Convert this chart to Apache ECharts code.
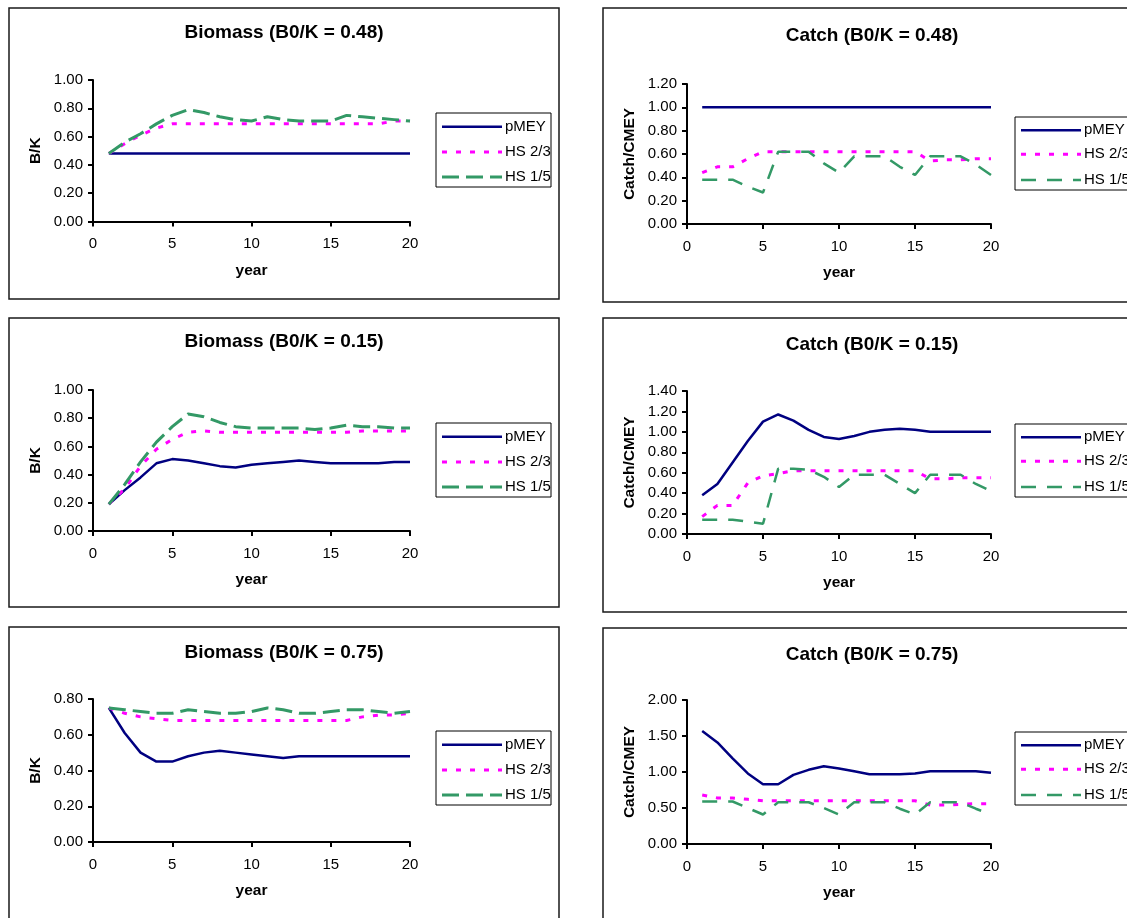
<!DOCTYPE html>
<html>
<head>
<meta charset="utf-8">
<script src="https://cdn.jsdelivr.net/npm/echarts@6/dist/echarts.min.js"></script>
<style>
  html, body { margin: 0; padding: 0; background: #ffffff; }
  #chart { width: 1127px; height: 918px; }
</style>
</head>
<body>
<div id="chart"></div>
<script>
// ---- data ----
const years = [1, 2, 3, 4, 5, 6, 7, 8, 9, 10, 11, 12, 13, 14, 15, 16, 17, 18, 19, 20];
const seriesNames = ['pMEY', 'HS 2/3', 'HS 1/5'];
const xTicks = [0, 5, 10, 15, 20];

// B0/K = 0.48
const biomass048_pMEY = [0.48, 0.48, 0.48, 0.48, 0.48, 0.48, 0.48, 0.48, 0.48, 0.48, 0.48, 0.48, 0.48, 0.48, 0.48, 0.48, 0.48, 0.48, 0.48, 0.48];
const biomass048_hs23 = [0.48, 0.55, 0.61, 0.66, 0.69, 0.69, 0.69, 0.69, 0.69, 0.69, 0.69, 0.69, 0.69, 0.69, 0.69, 0.69, 0.69, 0.69, 0.71, 0.71];
const biomass048_hs15 = [0.48, 0.56, 0.62, 0.69, 0.75, 0.79, 0.77, 0.74, 0.72, 0.71, 0.74, 0.72, 0.71, 0.71, 0.71, 0.75, 0.74, 0.73, 0.72, 0.71];
const catch048_pMEY = [1.00, 1.00, 1.00, 1.00, 1.00, 1.00, 1.00, 1.00, 1.00, 1.00, 1.00, 1.00, 1.00, 1.00, 1.00, 1.00, 1.00, 1.00, 1.00, 1.00];
const catch048_hs23 = [0.44, 0.49, 0.49, 0.56, 0.62, 0.62, 0.62, 0.62, 0.62, 0.62, 0.62, 0.62, 0.62, 0.62, 0.62, 0.54, 0.55, 0.55, 0.56, 0.56];
const catch048_hs15 = [0.38, 0.38, 0.38, 0.32, 0.27, 0.62, 0.62, 0.62, 0.52, 0.44, 0.58, 0.58, 0.58, 0.49, 0.42, 0.58, 0.58, 0.58, 0.51, 0.42];

// B0/K = 0.15
const biomass015_pMEY = [0.19, 0.29, 0.38, 0.48, 0.51, 0.50, 0.48, 0.46, 0.45, 0.47, 0.48, 0.49, 0.50, 0.49, 0.48, 0.48, 0.48, 0.48, 0.49, 0.49];
const biomass015_hs23 = [0.19, 0.30, 0.46, 0.58, 0.65, 0.70, 0.71, 0.70, 0.70, 0.70, 0.70, 0.70, 0.70, 0.70, 0.70, 0.70, 0.71, 0.71, 0.71, 0.71];
const biomass015_hs15 = [0.19, 0.33, 0.49, 0.63, 0.74, 0.83, 0.81, 0.77, 0.74, 0.73, 0.73, 0.73, 0.73, 0.72, 0.73, 0.75, 0.74, 0.74, 0.73, 0.73];
const catch015_pMEY = [0.38, 0.49, 0.70, 0.91, 1.10, 1.17, 1.11, 1.02, 0.95, 0.93, 0.96, 1.00, 1.02, 1.03, 1.02, 1.00, 1.00, 1.00, 1.00, 1.00];
const catch015_hs23 = [0.17, 0.28, 0.28, 0.50, 0.57, 0.59, 0.62, 0.62, 0.62, 0.62, 0.62, 0.62, 0.62, 0.62, 0.62, 0.54, 0.54, 0.55, 0.55, 0.55];
const catch015_hs15 = [0.14, 0.14, 0.14, 0.12, 0.10, 0.64, 0.64, 0.63, 0.56, 0.46, 0.58, 0.58, 0.58, 0.49, 0.40, 0.58, 0.58, 0.58, 0.49, 0.42];

// B0/K = 0.75
const biomass075_pMEY = [0.75, 0.61, 0.50, 0.45, 0.45, 0.48, 0.50, 0.51, 0.50, 0.49, 0.48, 0.47, 0.48, 0.48, 0.48, 0.48, 0.48, 0.48, 0.48, 0.48];
const biomass075_hs23 = [0.75, 0.72, 0.70, 0.69, 0.68, 0.68, 0.68, 0.68, 0.68, 0.68, 0.68, 0.68, 0.68, 0.68, 0.68, 0.68, 0.70, 0.71, 0.71, 0.72];
const biomass075_hs15 = [0.75, 0.74, 0.73, 0.72, 0.72, 0.74, 0.73, 0.72, 0.72, 0.73, 0.75, 0.74, 0.72, 0.72, 0.73, 0.74, 0.74, 0.73, 0.72, 0.73];
const catch075_pMEY = [1.57, 1.41, 1.19, 0.98, 0.83, 0.83, 0.96, 1.03, 1.08, 1.05, 1.01, 0.97, 0.97, 0.97, 0.98, 1.01, 1.01, 1.01, 1.01, 0.99];
const catch075_hs23 = [0.68, 0.64, 0.64, 0.62, 0.60, 0.60, 0.60, 0.60, 0.60, 0.60, 0.60, 0.60, 0.60, 0.60, 0.60, 0.54, 0.54, 0.55, 0.56, 0.56];
const catch075_hs15 = [0.59, 0.59, 0.59, 0.50, 0.41, 0.58, 0.58, 0.58, 0.50, 0.41, 0.58, 0.58, 0.58, 0.49, 0.41, 0.58, 0.58, 0.58, 0.49, 0.41];

// ---- layout of the six panels ----
const FONT = 'Arial, "Liberation Sans", sans-serif';
const panels = [
  { title: 'Biomass (B0/K = 0.48)', yName: 'B/K', yMax: 1.0, yStep: 0.2, kind: 'biomass',
    values: [biomass048_pMEY, biomass048_hs23, biomass048_hs15],
    grid: { left: 93, top: 80, width: 317, height: 141.5 }, box: { x: 9, y: 8, w: 550, h: 291 },
    titleX: 284, titleY: 33, legend: { x: 436, y: 113, w: 115, h: 74, rows: [13.7, 39, 64] } },
  { title: 'Catch (B0/K = 0.48)', yName: 'Catch/CMEY', yMax: 1.2, yStep: 0.2, kind: 'catch',
    values: [catch048_pMEY, catch048_hs23, catch048_hs15],
    grid: { left: 687, top: 84, width: 304, height: 140 }, box: { x: 603, y: 8, w: 560, h: 294 },
    titleX: 872, titleY: 36, legend: { x: 1015, y: 117, w: 140, h: 73, rows: [13.3, 37.3, 63] } },
  { title: 'Biomass (B0/K = 0.15)', yName: 'B/K', yMax: 1.0, yStep: 0.2, kind: 'biomass',
    values: [biomass015_pMEY, biomass015_hs23, biomass015_hs15],
    grid: { left: 93, top: 390, width: 317, height: 141 }, box: { x: 9, y: 318, w: 550, h: 289 },
    titleX: 284, titleY: 342, legend: { x: 436, y: 423, w: 115, h: 74, rows: [13.7, 39, 64] } },
  { title: 'Catch (B0/K = 0.15)', yName: 'Catch/CMEY', yMax: 1.4, yStep: 0.2, kind: 'catch',
    values: [catch015_pMEY, catch015_hs23, catch015_hs15],
    grid: { left: 687, top: 391, width: 304, height: 143 }, box: { x: 603, y: 318, w: 560, h: 294 },
    titleX: 872, titleY: 345, legend: { x: 1015, y: 424, w: 140, h: 73, rows: [13.3, 37.3, 63] } },
  { title: 'Biomass (B0/K = 0.75)', yName: 'B/K', yMax: 0.8, yStep: 0.2, kind: 'biomass',
    values: [biomass075_pMEY, biomass075_hs23, biomass075_hs15],
    grid: { left: 93, top: 699, width: 317, height: 143 }, box: { x: 9, y: 627, w: 550, h: 320 },
    titleX: 284, titleY: 653, legend: { x: 436, y: 731, w: 115, h: 74, rows: [13.7, 39, 64] } },
  { title: 'Catch (B0/K = 0.75)', yName: 'Catch/CMEY', yMax: 2.0, yStep: 0.5, kind: 'catch',
    values: [catch075_pMEY, catch075_hs23, catch075_hs15],
    grid: { left: 687, top: 700, width: 304, height: 144 }, box: { x: 603, y: 628, w: 560, h: 320 },
    titleX: 872, titleY: 655, legend: { x: 1015, y: 732, w: 140, h: 73, rows: [13.3, 37.3, 63] } }
];

// line styles per series, green dashes are longer/thicker in biomass panels
function lineStyleFor(idx, kind) {
  if (idx === 0) return { color: '#000080', width: 2.5, type: 'solid' };
  if (idx === 1) return { color: '#FF00FF', width: 3, type: [5, 9], cap: 'butt' };
  return kind === 'biomass'
    ? { color: '#339966', width: 3, type: [17, 7], cap: 'butt' }
    : { color: '#339966', width: 2.5, type: [15, 11], cap: 'butt' };
}

const axisLine = { show: true, onZero: false, lineStyle: { color: '#000', width: 2 } };
const axisTick = { show: true, inside: false, length: 5, lineStyle: { color: '#000', width: 2 } };

const option = {
  backgroundColor: '#ffffff',
  animation: false,
  title: [],
  grid: [],
  xAxis: [],
  yAxis: [],
  series: [],
  graphic: []
};

panels.forEach((p, i) => {
  // panel frame
  option.graphic.push({
    type: 'rect', z: 0, silent: true,
    shape: { x: p.box.x, y: p.box.y, width: p.box.w, height: p.box.h },
    style: { fill: 'none', stroke: '#1a1a1a', lineWidth: 1.5 }
  });

  option.title.push({
    text: p.title, left: p.titleX, top: p.titleY, padding: 0,
    textAlign: 'center', textVerticalAlign: 'middle',
    textStyle: { fontFamily: FONT, fontSize: 19, fontWeight: 'bold', color: '#000' }
  });

  option.grid.push(Object.assign({ containLabel: false }, p.grid));

  option.xAxis.push({
    type: 'value', gridIndex: i, min: xTicks[0], max: xTicks[xTicks.length - 1], interval: 5,
    name: 'year', nameLocation: 'middle', nameGap: 41,
    nameTextStyle: { fontFamily: FONT, fontSize: 15.5, fontWeight: 'bold', color: '#000' },
    axisLine: axisLine, axisTick: axisTick, splitLine: { show: false },
    axisLabel: { margin: 15, fontFamily: FONT, fontSize: 15, color: '#000' }
  });

  option.yAxis.push({
    type: 'value', gridIndex: i, min: 0, max: p.yMax, interval: p.yStep,
    name: p.yName, nameLocation: 'middle', nameGap: 49, nameRotate: 90,
    nameTextStyle: { fontFamily: FONT, fontSize: 15.5, fontWeight: 'bold', color: '#000' },
    axisLine: axisLine, axisTick: axisTick, splitLine: { show: false },
    axisLabel: { margin: 10, fontFamily: FONT, fontSize: 15, color: '#000',
                 formatter: v => v.toFixed(2) }
  });

  p.values.forEach((vals, s) => {
    option.series.push({
      type: 'line', name: seriesNames[s], xAxisIndex: i, yAxisIndex: i,
      data: years.map((y, k) => [y, vals[k]]),
      symbol: 'none', smooth: false,
      lineStyle: lineStyleFor(s, p.kind),
      z: 2 + s
    });
  });

  // legend box with line samples
  const L = p.legend;
  const children = [{
    type: 'rect', shape: { x: 0, y: 0, width: L.w, height: L.h },
    style: { fill: '#fff', stroke: '#000', lineWidth: 1 }
  }];
  seriesNames.forEach((name, s) => {
    const ls = lineStyleFor(s, p.kind);
    children.push({
      type: 'line', shape: { x1: 6, y1: L.rows[s], x2: 66, y2: L.rows[s] },
      style: { stroke: ls.color, lineWidth: ls.width, lineDash: ls.type === 'solid' ? null : ls.type, lineCap: 'butt' }
    });
    children.push({
      type: 'text', x: 69, y: L.rows[s],
      style: { text: name, font: '15px ' + FONT, fill: '#000',
               textAlign: 'left', align: 'left', textVerticalAlign: 'middle', verticalAlign: 'middle' }
    });
  });
  option.graphic.push({ type: 'group', x: L.x, y: L.y, z: 10, silent: true, children: children });
});

const chart = echarts.init(document.getElementById('chart'), null, { renderer: 'canvas' });
chart.setOption(option);
</script>
</body>
</html>
